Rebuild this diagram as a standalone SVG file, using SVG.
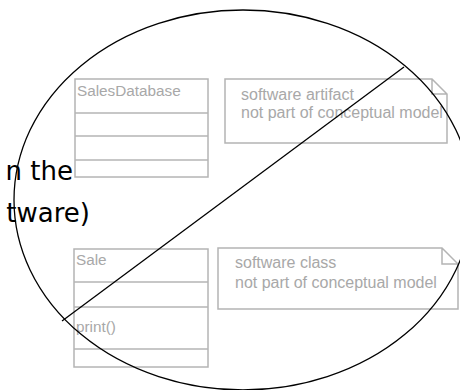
<svg xmlns="http://www.w3.org/2000/svg" width="460" height="390" viewBox="0 0 460 390">
<style>
.box{fill:none;stroke:#b4b4b4;stroke-width:1.5}
.gt{font-family:"Liberation Sans",Arial,sans-serif;font-size:15.3px;fill:#a8a8a8}
.nt{font-family:"Liberation Sans",Arial,sans-serif;font-size:16px;fill:#a8a8a8}
.big{font-family:"DejaVu Sans",Verdana,sans-serif;font-size:26px;fill:#000}
.ln{fill:none;stroke:#000;stroke-width:1.3}
</style>
<rect width="460" height="390" fill="#fff"/>
<g id="slide-text">
<text class="big" x="73" y="180" text-anchor="end">n the</text>
<text class="big" x="90" y="222" text-anchor="end">tware)</text>
</g>
<g id="SalesDatabase">
<rect class="box" x="75" y="79" width="133" height="98"/>
<line class="box" x1="75" y1="113" x2="208" y2="113"/>
<line class="box" x1="75" y1="136" x2="208" y2="136"/>
<line class="box" x1="75" y1="160" x2="208" y2="160"/>
<text class="gt" x="77" y="96">SalesDatabase</text>
</g>
<g id="note-artifact">
<path class="box" d="M225,79 H432 L447,94 V143 H225 Z M432,79 V94 H447"/>
<text class="nt" x="241" y="100">software artifact</text>
<text class="nt" x="241" y="118">not part of conceptual model</text>
</g>
<g id="Sale">
<rect class="box" x="74" y="249" width="134" height="118"/>
<line class="box" x1="74" y1="282" x2="208" y2="282"/>
<line class="box" x1="74" y1="307" x2="208" y2="307"/>
<line class="box" x1="74" y1="349" x2="208" y2="349"/>
<text class="gt" x="76" y="265">Sale</text>
<text class="gt" x="76" y="332">print()</text>
</g>
<g id="note-class">
<path class="box" d="M218,248 H442 L458,264 V309 H218 Z M442,248 V264 H458"/>
<text class="nt" x="235" y="268">software class</text>
<text class="nt" x="235" y="288">not part of conceptual model</text>
</g>
<g id="connectors">
<ellipse class="ln" cx="243" cy="200" rx="229" ry="190"/>
<line class="ln" x1="62" y1="321" x2="404" y2="67"/>
</g>
</svg>
